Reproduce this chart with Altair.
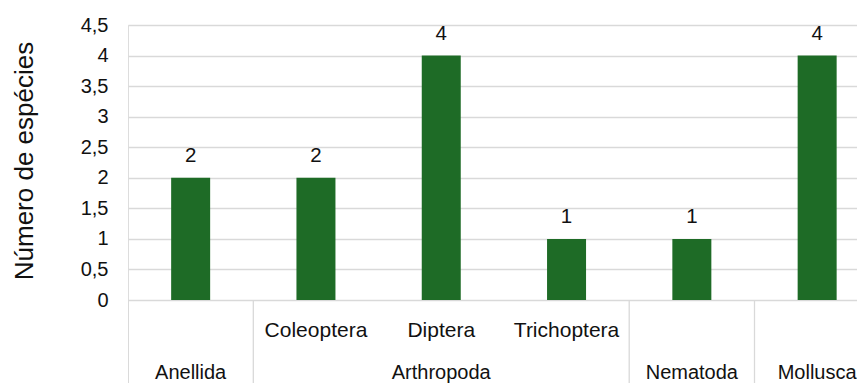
import altair as alt
import pandas as pd

# ---- data ----
taxa = ["Anellida", "Coleoptera", "Diptera", "Trichoptera", "Nematoda", "Mollusca"]
sub_labels = ["", "Coleoptera", "Diptera", "Trichoptera", "", ""]
phyla = ["Anellida", "Arthropoda", "Arthropoda", "Arthropoda", "Nematoda", "Mollusca"]
species = [2, 2, 4, 1, 1, 4]
y_ticks = [0, 0.5, 1, 1.5, 2, 2.5, 3, 3.5, 4, 4.5]

# ---- layout constants ----
PLOT_W = 729
PLOT_H = 358
SLOT_PX = 125.3
PX_PER_UNIT = 275 / 4.5
Y_MIN = -(PLOT_H - 275) / PX_PER_UNIT
X_MAX = PLOT_W / SLOT_PX
GREEN = "#1e6b26"
GRID = "#d9d9d9"
TXT = "#111111"
FONT = "Liberation Sans"

df = pd.DataFrame({"taxon": taxa, "sub": sub_labels, "phylum": phyla, "n": species})
df["pos"] = df.index + 0.5

# phylum groups (first index, last index)
groups = []
for p in dict.fromkeys(phyla):
    idx = [i for i, q in enumerate(phyla) if q == p]
    groups.append({"phylum": p, "start": idx[0], "end": idx[-1] + 1})
gdf = pd.DataFrame(groups)
gdf["center"] = (gdf["start"] + gdf["end"]) / 2
bounds = pd.DataFrame({"b": sorted(set(gdf["start"]).union(gdf["end"]))})

xscale = alt.Scale(domain=[0, X_MAX], nice=False, zero=False, padding=0)
yscale = alt.Scale(domain=[Y_MIN, 4.5], nice=False, zero=False, padding=0)

y_axis = alt.Axis(
    values=y_ticks,
    labelExpr="replace(format(datum.value, '~g'), '.', ',')",
    labelOverlap=False,
    ticks=False,
    domain=False,
    grid=True,
    gridColor=GRID,
    gridWidth=1.3,
    labelFont=FONT,
    labelFontSize=20,
    labelColor=TXT,
    labelPadding=20,
    title="Número de espécies",
    titleFont=FONT,
    titleFontSize=26,
    titleFontWeight="normal",
    titleColor=TXT,
    titleAngle=270,
    titleAlign="center",
    titleBaseline="alphabetic",
    titleX=-96,
    titleY=135.5,
)

base = alt.Chart(df)

bars = base.mark_bar(size=39, color=GREEN).encode(
    x=alt.X("pos:Q", scale=xscale, axis=None),
    y=alt.Y("n:Q", scale=yscale, axis=y_axis, title="Número de espécies"),
    y2=alt.datum(0),
)

bar_labels = base.mark_text(
    dy=-15.5, baseline="alphabetic", fontSize=20.5, font=FONT, color=TXT
).encode(
    x=alt.X("pos:Q", scale=xscale, axis=None),
    y=alt.Y("n:Q", scale=yscale, axis=y_axis, title="Número de espécies"),
    text=alt.Text("n:Q"),
)

separators = alt.Chart(bounds).mark_rule(color=GRID, strokeWidth=1.3, clip=True).encode(
    x=alt.X("b:Q", scale=xscale, axis=None),
    y=alt.Y(datum=0, scale=yscale, axis=y_axis, title="Número de espécies"),
    y2=alt.datum(Y_MIN),
)

sub_text = base.transform_filter("datum.sub != ''").mark_text(
    baseline="alphabetic", fontSize=21, font=FONT, color=TXT
).encode(
    x=alt.X("pos:Q", scale=xscale, axis=None),
    y=alt.value(311.7),
    text="sub:N",
)

top_text = alt.Chart(gdf).mark_text(
    baseline="alphabetic", fontSize=20, font=FONT, color=TXT
).encode(
    x=alt.X("center:Q", scale=xscale, axis=None),
    y=alt.value(353.5),
    text="phylum:N",
)

chart = (
    alt.layer(bars, separators, bar_labels, sub_text, top_text)
    .properties(
        width=PLOT_W,
        height=PLOT_H,
        autosize=alt.AutoSizeParams(type="none"),
        padding={"left": 120, "top": 17, "right": 0, "bottom": 0},
    )
    .configure_view(stroke="transparent", strokeWidth=0)
    .configure(background="white")
)

chart.save("out.html", embed_options={"renderer": "svg", "actions": False})
